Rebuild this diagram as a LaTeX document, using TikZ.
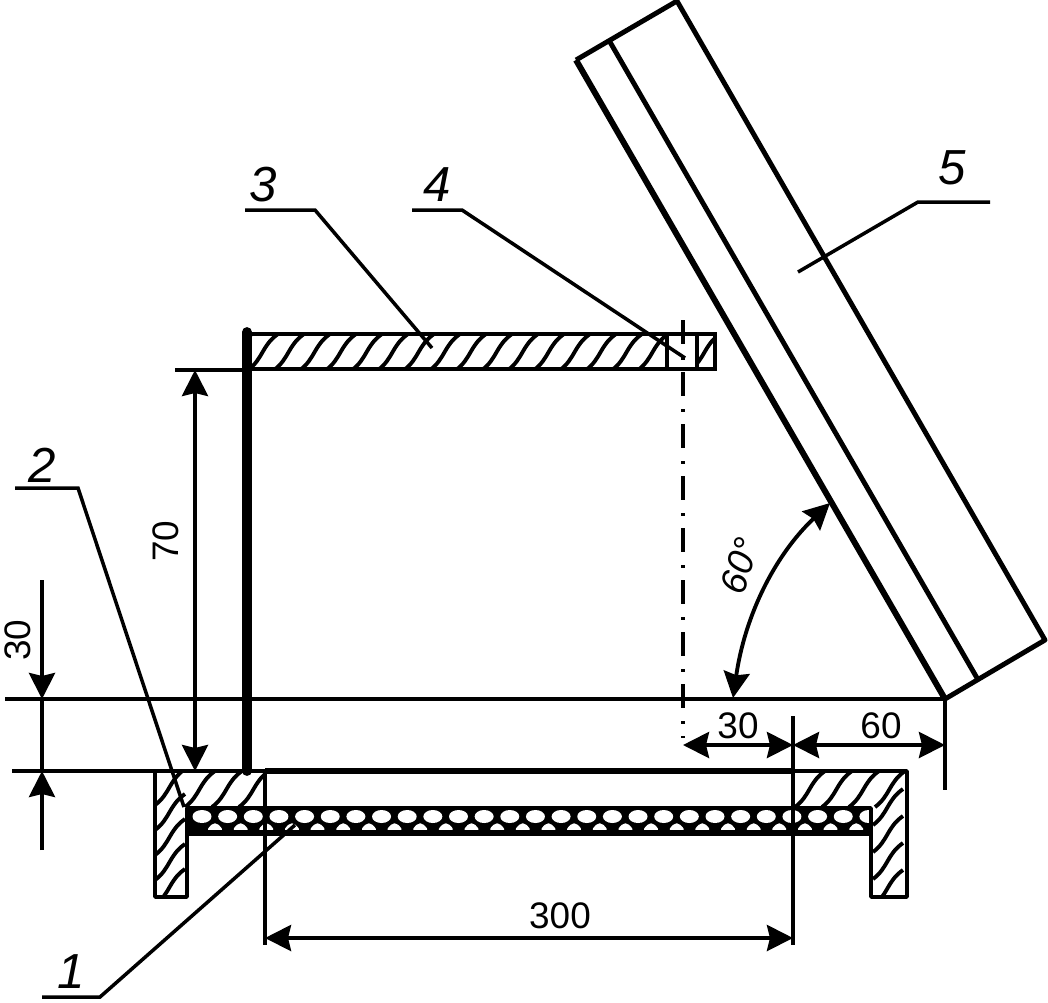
\documentclass[tikz,border=0pt]{standalone}
\usepackage{fontspec}
\setmainfont{Liberation Sans}
\usetikzlibrary{arrows.meta}
\tikzset{
  thin line/.style={line width=1pt},
  main line/.style={line width=1.4pt},
  heavy line/.style={line width=1.7pt},
  hatch line/.style={line width=1.1pt},
  dim arrow/.style={line width=1.1pt, {Stealth[length=0.26cm, width=0.26cm, inset=0.03cm]}-{Stealth[length=0.26cm, width=0.26cm, inset=0.03cm]}},
  dim tip/.style={line width=1.1pt, -{Stealth[length=0.26cm, width=0.26cm, inset=0.03cm]}},
  dim label/.style={font=\fontsize{10.5}{12}\selectfont, inner sep=0pt},
  part label/.style={font=\fontsize{14}{16}\selectfont\itshape, inner sep=0pt}
}
\newcommand{\hatchmark}[2]{\draw[hatch line] (#1,#2) .. controls (#1+15,#2-11) and (#1+14,#2-25) .. (#1+30,#2-36);}
\begin{document}
\begin{tikzpicture}[x=0.01cm, y=-0.01cm]
  \useasboundingbox (0,0) rectangle (1048,1002);

  % Reference points of the drawing
  \coordinate (baseL) at (5,699);
  \coordinate (sunK) at (945,699);
  \coordinate (sunKb) at (945,790);
  \coordinate (floorL) at (12,771);
  \coordinate (frameL) at (155,771);
  \coordinate (openL) at (265,771);
  \coordinate (openR) at (793,771);
  \coordinate (openLb) at (265,945);
  \coordinate (openRt) at (793,716);
  \coordinate (openRb) at (793,945);

  % Hatching of top plate
  \begin{scope}
    \clip (247,333) rectangle (715,370);
    \foreach \x in {222,248,...,700} {\hatchmark{\x}{370}}
  \end{scope}
  \fill[white] (667,333) rectangle (697,370);
  \draw[main line] (247,334) rectangle (715,369);
  \draw[main line] (667,334) -- (667,369);
  \draw[thin line] (697,334) -- (697,369);

  % Hatching of frame
  \begin{scope}
    \clip (155,771) -- (265,771) -- (265,808) -- (187,808) -- (187,897) -- (155,897) -- cycle;
    \foreach \x in {185,212,239} {\hatchmark{\x}{807}}
    \foreach \y in {805,830,855,880,905} {\hatchmark{155}{\y}}
  \end{scope}
  \begin{scope}
    \clip (793,771) -- (907,771) -- (907,897) -- (871,897) -- (871,808) -- (793,808) -- cycle;
    \foreach \x in {795,822,849,875} {\hatchmark{\x}{807}}
    \foreach \y in {825,852,879,906} {\hatchmark{873}{\y}}
  \end{scope}

  % Insulation layer
  \begin{scope}
    \clip (187,808) rectangle (871,833);
    \fill (187,808) rectangle (871,833);
    \foreach \x in {202,227.65,...,870} {
      \fill[white] (\x,816.5) ellipse (9.5 and 6.5);
      \fill[white, rounded corners=1.5] (\x+13,821) -- (\x+3.5,831) -- (\x+22.5,831) -- cycle;
    }
  \end{scope}
  \draw[main line] (187,808) -- (871,808);
  \draw[heavy line] (187,833) -- (871,833);

  % Frame outline
  \draw[thin line, line join=round] (187,808) -- (187,897) -- (155,897) -- (frameL) -- (openL);
  \draw[main line] (187,808) -- (187,897);
  \draw[main line] (openL) -- (265,808) -- (187,808);
  \draw[thin line, line join=round] (openR) -- (907,771) -- (907,897) -- (871,897) -- (871,808) -- (793,808);
  \draw[main line] (871,808) -- (871,897);
  \draw[heavy line] (openL) -- (openR);

  % Heavy wall
  \draw[line width=2.8pt, line cap=round] (247,332) -- (247,771);

  % Solar panel
  \coordinate (panelA) at (576,60);
  \coordinate (panelB) at (677,1);
  \coordinate (panelC) at (1045,640);
  \draw[main line, line join=round] (panelA) -- (panelB) -- (panelC) -- (sunK);
  \draw[main line] (610,42) -- (977,678);
  \draw[heavy line] (panelA) -- (sunK);

  % Extension lines
  \draw[thin line] (baseL) -- (sunK);
  \draw[thin line] (sunK) -- (sunKb);
  \draw[thin line] (floorL) -- (frameL);
  \draw[thin line] (175,370) -- (247,370);
  \draw[thin line] (openL) -- (openLb);
  \draw[thin line] (openRt) -- (openRb);
  \draw[thin line, dash pattern=on 0.24cm off 0.13cm on 0.03cm off 0.12cm] (683,320) -- (683,738);

  % Dimensions
  \draw[dim arrow] (195,370) -- (195,771);
  \draw[dim tip] (42,580) -- (42,699);
  \draw[dim tip] (42,850) -- (42,771);
  \draw[thin line] (42,699) -- (42,771);
  \draw[dim arrow] (683,745) -- (793,745);
  \draw[dim arrow] (793,745) -- (945,745);
  \draw[dim arrow] (265,938) -- (793,938);
  \draw[dim arrow] (733,698) .. controls (745,615) and (775,555) .. (830,503);

  \node[dim label, rotate=90] (dimA) at (166,541) {70};
  \node[dim label, rotate=90] (dimB) at (18,640) {30};
  \node[dim label] (dimC) at (738,726) {30};
  \node[dim label] (dimD) at (881,726) {60};
  \node[dim label] (dimE) at (560,916) {300};
  \node[dim label, font=\fontsize{10.5}{12}\selectfont\itshape, rotate=72] (dimF) at (740,566) {60°};

  % Leaders with part numbers
  \node[part label] (partA) at (71,972) {1};
  \node[part label] (partB) at (42,465) {2};
  \node[part label] (partC) at (263,185) {3};
  \node[part label] (partD) at (437,185) {4};
  \node[part label] (partE) at (952,168) {5};

  \draw[thin line] (42,997) -- (100,997) -- (295,825);
  \draw[thin line] (15,488) -- (78,488) -- (184,807);
  \draw[thin line] (245,210) -- (315,210) -- (432,348);
  \draw[thin line] (412,210) -- (462,210) -- (685,358);
  \draw[thin line] (990,202) -- (918,202) -- (798,272);
\end{tikzpicture}
\end{document}
